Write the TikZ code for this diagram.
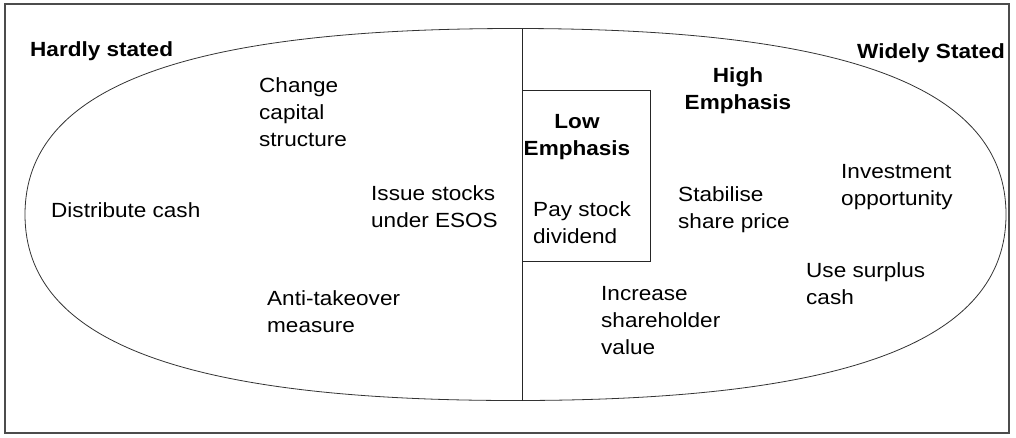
\documentclass[tikz,border=0pt]{standalone}
\usepackage{fontspec}
\setmainfont{Liberation Sans}[FakeStretch=1.1]
\usepackage{tikz}
\tikzstyle{item}=[anchor=base west, inner sep=0pt, align=left, font=\fontsize{20.5}{27}\selectfont]
\tikzstyle{head}=[item, font=\fontsize{20.5}{27}\selectfont\bfseries]
\tikzstyle{headmid}=[head, anchor=base, align=center]
\tikzstyle{rule}=[draw, line width=1pt, black!85]

\begin{document}
\begin{tikzpicture}[x=1pt, y=-1pt]
		   \useasboundingbox (0, 0) rectangle (1016, 437);
		   \begin{scope}
			   \draw [line width=1.2pt, black!70] (5, 4) rectangle (1009, 433);
			   \draw [line width=0.8pt, black!80] (25, 214.5)
				   .. controls (25, 88) and (182, 28.5) .. (515.5, 28.5)
				   .. controls (849, 28.5) and (1006, 88) .. (1006, 214.5)
				   .. controls (1006, 341) and (849, 400.5) .. (515.5, 400.5)
				   .. controls (182, 400.5) and (25, 341) .. cycle;
			   \coordinate (divtop) at (522, 28.5);
			   \coordinate (divbot) at (522, 400.5);
			   \draw [rule] (522, 90) rectangle (650, 261);
		   \end{scope}
		   \begin{scope}
			   \path [rule] (divtop) edge (divbot);
		   \end{scope}
		   % multi-line nodes sit on the baseline of their last line
		   \begin{scope}
			   \node (hardly) at (30, 56)[head] {Hardly stated};
			   \node (widely) at (857, 58)[head] {Widely Stated};
			   \node (high) at (738, 109)[headmid] {High\\Emphasis};
			   \node (low) at (577, 155)[headmid] {Low\\Emphasis};
			   \node (change) at (259, 146)[item] {Change\\capital\\structure};
			   \node (distribute) at (51, 217)[item] {Distribute cash};
			   \node (issue) at (371, 227)[item] {Issue stocks\\under ESOS};
			   \node (anti) at (267, 332)[item] {Anti-takeover\\measure};
			   \node (pay) at (533, 243)[item] {Pay stock\\dividend};
			   \node (stabilise) at (678, 228)[item] {Stabilise\\share price};
			   \node (investment) at (841, 205)[item] {Investment\\opportunity};
			   \node (surplus) at (806, 304)[item] {Use surplus\\cash};
			   \node (increase) at (601, 354)[item] {Increase\\shareholder\\value};
		   \end{scope}
	   \end{tikzpicture}
\end{document}
